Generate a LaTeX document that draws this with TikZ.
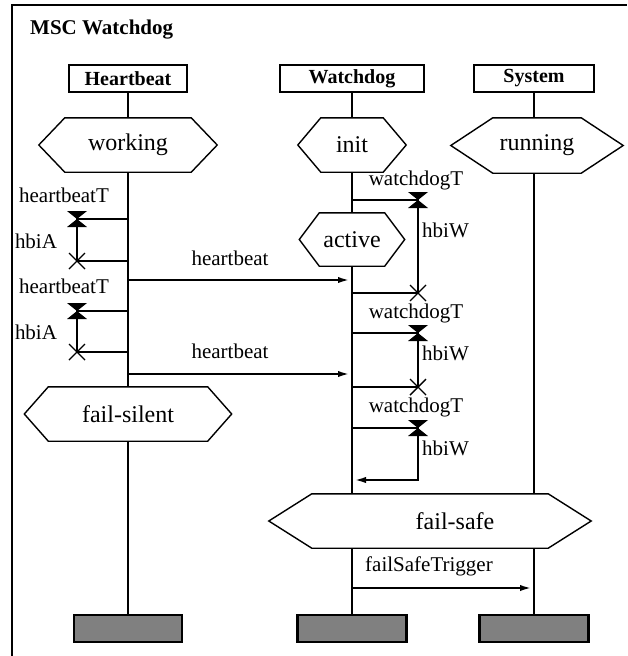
\documentclass[tikz,border=0pt]{standalone}
\usepackage{fontspec}
\setmainfont{Liberation Serif}
\usepackage{tikz}
\usetikzlibrary{arrows.meta,positioning}
\newcommand{\condframe}[2]{%
  \draw[condline] (#1.west) -- ([xshift=#2pt]#1.north west) -- ([xshift=-#2pt]#1.north east)
    -- (#1.east) -- ([xshift=-#2pt]#1.south east) -- ([xshift=#2pt]#1.south west) -- cycle;}
\tikzset{
  every picture/.style = {
    x = 1pt,
    y = -1pt,
    >={Latex[length=14pt,width=6pt]},
  }
  ,
  head/.style = {
    rectangle,
    draw,
    line width = 2.6pt,
    font = \fontsize{20}{24}\selectfont\bfseries,
    minimum height = 27pt,
    inner sep = 0pt
  }
  ,
  tail/.style = {
    rectangle,
    draw,
    fill = gray,
    line width = 2.6pt,
    minimum width = 108pt,
    minimum height = 27pt
  }
  , % conditions
  cond/.style = {
    rectangle,
    inner sep = 0pt,
    minimum height = 54pt,
    font = \fontsize{24}{28}\selectfont
  }
  ,
  condline/.style = {
    line width = 1.4pt,
    line join = miter
  }
  ,
  life/.style = {
    line width = 2.6pt
  }
  ,
  msg/.style = {
    ->,
    line width = 2.6pt
  }
  , % labels of messages and timers
  lbl/.style = {
    font = \fontsize{21}{25}\selectfont,
    inner sep = 0pt
  }
  ,
  timer/.pic = {
    \fill (-10,-8) -- (10,-8) -- (-10,8) -- (10,8) -- cycle;
  }
  ,
  xmark/.pic = {
    \draw[line width=1.4pt] (-8,-8) -- (8,8) (-8,8) -- (8,-8);
  }
}

\begin{document}
\begin{tikzpicture}
		\useasboundingbox (0,0) rectangle (627,656);
		\draw[line width=2.5pt] (12,656) -- (12,5) -- (627,5);
		\node at (30,34) [anchor=base west, inner sep=0pt, font=\fontsize{21}{25}\selectfont\bfseries] (title) {MSC Watchdog};

		\node at (128,78.5) [head, minimum width=118pt] (hb) {Heartbeat};
		\node at (352,78.5) [head, minimum width=144pt] (wd) {Watchdog};
		\node at (534,78.5) [head, minimum width=120pt] (sys) {System};

		\node at (128,145) [cond, minimum width=178pt] (working) {working};
		\node at (352,145) [cond, minimum width=108pt] (init) {init};
		\node at (537,145.5) [cond, minimum width=172pt, minimum height=55pt] (running) {running};
		\node at (352,239.5) [cond, minimum width=105pt, minimum height=53pt] (active) {active};
		\node at (128,414) [cond, minimum width=207pt] (failsilent) {fail-silent};
		\node at (430,521) [cond, minimum width=322pt] (failsafe) {\hspace*{50pt}fail-safe};

		\node at (128,628.5) [tail] (hbend) {};
		\node at (352,628.5) [tail, minimum width=109pt] (wdend) {};
		\node at (534,628.5) [tail, minimum width=109pt] (sysend) {};

		% lifelines
		\draw[life] (hb) -- (working);
		\draw[life] (working) -- (failsilent);
		\draw[life] (failsilent) -- (hbend);
		\draw[life] (wd) -- (init);
		\draw[life] (init) -- (active);
		\draw[life] (active) -- (active |- failsafe.north);
		\draw[life] (wdend |- failsafe.south) -- (wdend);
		\draw[life] (sys) -- (sys |- running.north);
		\draw[life] (sys |- running.south) -- (sys |- failsafe.north);
		\draw[life] (sys |- failsafe.south) -- (sysend);

		\condframe{working}{26}
		\condframe{init}{23}
		\condframe{running}{42}
		\condframe{active}{20}
		\condframe{failsilent}{24}
		\condframe{failsafe}{43}

		% timers
		\coordinate (hbT1) at (77,219);
		\coordinate (hbA1) at (77,261);
		\coordinate (hbT2) at (77,311);
		\coordinate (hbA2) at (77,352);
		\coordinate (wdT1) at (418,200);
		\coordinate (wdA1) at (418,293);
		\coordinate (wdT2) at (418,333);
		\coordinate (wdA2) at (418,387);
		\coordinate (wdT3) at (418,428);
		\coordinate (wdX3) at (418,480);
		\coordinate (hbm1) at (128,280);
		\coordinate (hbm2) at (128,374);
		\coordinate (fst) at (352,588);

		\draw[life] (hbT1 -| hb) -- (hbT1) -- (hbA1) -- (hbA1 -| hb);
		\draw[life] (hbT2 -| hb) -- (hbT2) -- (hbA2) -- (hbA2 -| hb);
		\draw[life] (wdT1 -| wd) -- (wdT1) -- (wdA1) -- (wdA1 -| wd);
		\draw[life] (wdT2 -| wd) -- (wdT2) -- (wdA2) -- (wdA2 -| wd);
		\draw[msg] (wdT3 -| wd) -- (wdT3) -- (wdX3) -- (wdX3 -| wd);
		\pic at (hbT1) {timer};
		\pic at (hbT2) {timer};
		\pic at (wdT1) {timer};
		\pic at (wdT2) {timer};
		\pic at (wdT3) {timer};
		\pic at (hbA1) {xmark};
		\pic at (hbA2) {xmark};
		\pic at (wdA1) {xmark};
		\pic at (wdA2) {xmark};

		% messages
		\draw[msg] (hbm1) -- (hbm1 -| wd);
		\draw[msg] (hbm2) -- (hbm2 -| wd);
		\draw[msg] (fst) -- (fst -| sys);

		\node at (64,202) [lbl, anchor=base] (hbTl1) {heartbeatT};
		\node at (64,293) [lbl, anchor=base] (hbTl2) {heartbeatT};
		\node at (36,248) [lbl, anchor=base] (hbAl1) {hbiA};
		\node at (36,339) [lbl, anchor=base] (hbAl2) {hbiA};
		\node at (230,265) [lbl, anchor=base] (hbml1) {heartbeat};
		\node at (230,358) [lbl, anchor=base] (hbml2) {heartbeat};
		\node at (416,185) [lbl, anchor=base] (wdTl1) {watchdogT};
		\node at (416,318) [lbl, anchor=base] (wdTl2) {watchdogT};
		\node at (416,412) [lbl, anchor=base] (wdTl3) {watchdogT};
		\node at (422,237) [lbl, anchor=base west] (wdAl1) {hbiW};
		\node at (422,360) [lbl, anchor=base west] (wdAl2) {hbiW};
		\node at (422,455) [lbl, anchor=base west] (wdAl3) {hbiW};
		\node at (365,571) [lbl, anchor=base west] (fstl) {failSafeTrigger};
		\end{tikzpicture}
\end{document}
